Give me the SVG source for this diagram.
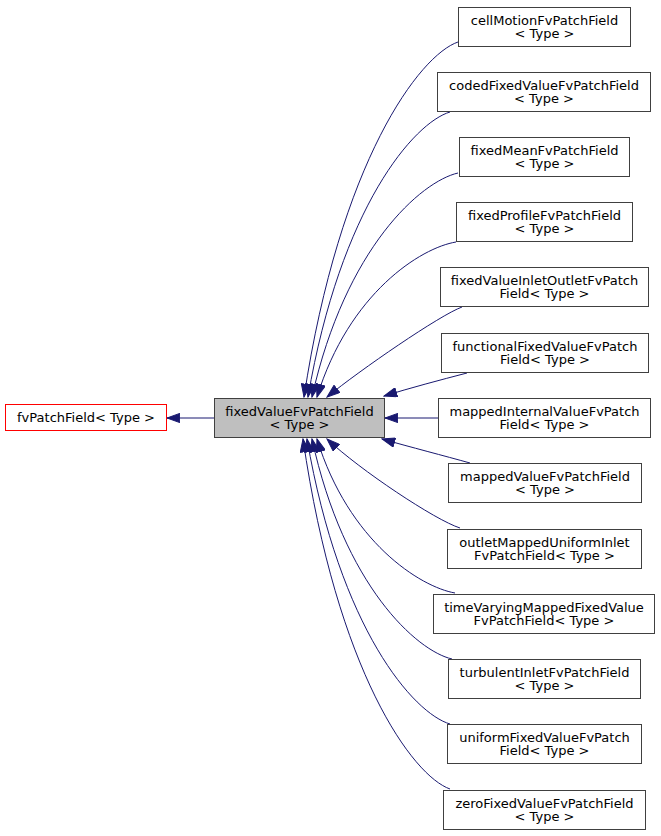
<svg xmlns="http://www.w3.org/2000/svg" width="661" height="836" viewBox="0 0 661 836">
<style>
.n rect{fill:#ffffff;stroke:#404040;stroke-width:1}
.n text{font-family:"DejaVu Sans",sans-serif;font-size:13px;fill:#000000;text-anchor:middle}
#center rect{fill:#bfbfbf}
#fvPatchField rect{stroke:#ff0000}
.e path{fill:none;stroke:#191970;stroke-width:1;marker-end:url(#arr)}
</style>
<defs>
<marker id="arr" markerUnits="userSpaceOnUse" markerWidth="14" markerHeight="10" viewBox="0 0 14 10" refX="13.3" refY="5" orient="auto">
<path d="M0.5,0.4 L13.3,5 L0.5,9.6 Z" fill="#191970" stroke="#191970" stroke-width="1"/>
</marker>
</defs>
<rect width="661" height="836" fill="#ffffff"/>
<g id="edges" class="e">
<path d="M214,418 L167,418"/>
<path d="M458,42 C420,55 340,160 304,397"/>
<path d="M450,112 C414.5,122.5 340.7,206 308,397"/>
<path d="M458,173 C421.5,181.3 345.6,247 312,397"/>
<path d="M456,242 C421,247.7 349,293 317,397"/>
<path d="M462,307 C440,315 360,370 327,397"/>
<path d="M467,373 C440,380 410,388 384,396"/>
<path d="M438,418 L385,418"/>
<path d="M470,463 C445,456 410,447 382,439"/>
<path d="M460,528 C435,520 360,470 327,439"/>
<path d="M455,593 C420.5,587 348.7,542 317,439"/>
<path d="M452,659 C417,651 344,586 312,439"/>
<path d="M450,724 C414,713.5 340,630 307,439"/>
<path d="M450,789 C413,776 337,673 303,439"/>
</g>
<g id="fvPatchField" class="n"><rect x="5.5" y="404.5" width="161" height="26"/><text x="86" y="422">fvPatchField&lt; Type &gt;</text></g>
<g id="center" class="n"><rect x="214.5" y="398.5" width="170" height="39"/><text x="299.5" y="416">fixedValueFvPatchField</text><text x="299.5" y="429">&lt; Type &gt;</text></g>
<g id="cellMotion" class="n"><rect x="458.5" y="7.5" width="172" height="39"/><text x="544.5" y="25">cellMotionFvPatchField</text><text x="544.5" y="38">&lt; Type &gt;</text></g>
<g id="codedFixedValue" class="n"><rect x="437.5" y="72.5" width="213" height="39"/><text x="544" y="90">codedFixedValueFvPatchField</text><text x="544" y="103">&lt; Type &gt;</text></g>
<g id="fixedMean" class="n"><rect x="459.5" y="137.5" width="170" height="39"/><text x="544.5" y="155">fixedMeanFvPatchField</text><text x="544.5" y="168">&lt; Type &gt;</text></g>
<g id="fixedProfile" class="n"><rect x="456.5" y="202.5" width="176" height="39"/><text x="544.5" y="220">fixedProfileFvPatchField</text><text x="544.5" y="233">&lt; Type &gt;</text></g>
<g id="fixedValueInletOutlet" class="n"><rect x="440.5" y="267.5" width="208" height="39"/><text x="544.5" y="285">fixedValueInletOutletFvPatch</text><text x="544.5" y="298">Field&lt; Type &gt;</text></g>
<g id="functionalFixedValue" class="n"><rect x="441.5" y="333.5" width="207" height="39"/><text x="545" y="351">functionalFixedValueFvPatch</text><text x="545" y="364">Field&lt; Type &gt;</text></g>
<g id="mappedInternalValue" class="n"><rect x="438.5" y="398.5" width="212" height="39"/><text x="544.5" y="416">mappedInternalValueFvPatch</text><text x="544.5" y="429">Field&lt; Type &gt;</text></g>
<g id="mappedValue" class="n"><rect x="448.5" y="463.5" width="193" height="39"/><text x="545" y="481">mappedValueFvPatchField</text><text x="545" y="494">&lt; Type &gt;</text></g>
<g id="outletMappedUniformInlet" class="n"><rect x="447.5" y="529.5" width="194" height="39"/><text x="544.5" y="547">outletMappedUniformInlet</text><text x="544.5" y="560">FvPatchField&lt; Type &gt;</text></g>
<g id="timeVaryingMappedFixedValue" class="n"><rect x="433.5" y="594.5" width="221" height="39"/><text x="544" y="612">timeVaryingMappedFixedValue</text><text x="544" y="625">FvPatchField&lt; Type &gt;</text></g>
<g id="turbulentInlet" class="n"><rect x="448.5" y="659.5" width="192" height="39"/><text x="544.5" y="677">turbulentInletFvPatchField</text><text x="544.5" y="690">&lt; Type &gt;</text></g>
<g id="uniformFixedValue" class="n"><rect x="447.5" y="724.5" width="194" height="39"/><text x="544.5" y="742">uniformFixedValueFvPatch</text><text x="544.5" y="755">Field&lt; Type &gt;</text></g>
<g id="zeroFixedValue" class="n"><rect x="443.5" y="790.5" width="202" height="39"/><text x="544.5" y="808">zeroFixedValueFvPatchField</text><text x="544.5" y="821">&lt; Type &gt;</text></g>
</svg>
